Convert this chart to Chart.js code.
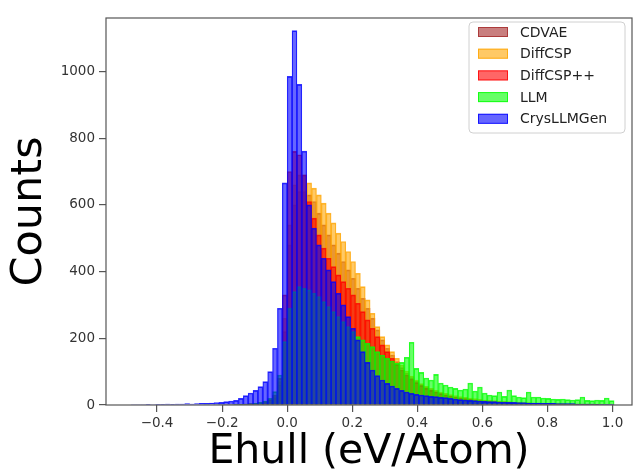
<!DOCTYPE html>
<html>
<head>
<meta charset="utf-8">
<script src="https://cdn.jsdelivr.net/npm/chart.js@4/dist/chart.umd.min.js"></script>
<style>
  html, body { margin: 0; padding: 0; background: #fff; }
  #wrap { width: 635px; height: 474px; }
</style>
</head>
<body>
<div id="wrap"><canvas id="hist" width="635" height="474"></canvas></div>
<script>
// histogram bins: left edge of the first bin and bin width (eV/atom)
const BIN_START = -0.48;
const BIN_WIDTH = 0.015;

const seriesNames = ["CDVAE", "DiffCSP", "DiffCSP++", "LLM", "CrysLLMGen"];

// counts per bin
const cdvae = [
  0, 0, 0, 0, 0, 0, 0, 0, 0, 0,
  0, 0, 0, 0, 0, 0, 0, 0, 0, 0,
  0, 0, 1, 1, 2, 3, 4, 6, 10, 20,
  60, 220, 480, 600, 640, 640, 630, 610, 575, 540,
  510, 480, 455, 430, 405, 380, 350, 320, 290, 260,
  225, 195, 170, 150, 130, 112, 96, 82, 71, 61,
  53, 46, 40, 35, 31, 27, 24, 21, 19, 17,
  15, 14, 13, 12, 11, 10, 9, 8, 7, 7,
  6, 6, 5, 5, 4, 4, 4, 3, 3, 3,
  3, 2, 2, 2, 2, 2, 1, 1, 1
];
const diffcsp = [
  0, 0, 0, 0, 0, 0, 0, 0, 0, 0,
  0, 0, 0, 0, 0, 0, 0, 0, 0, 1,
  1, 1, 2, 2, 3, 4, 6, 9, 14, 25,
  70, 260, 540, 660, 690, 690, 666, 650, 630, 605,
  575, 546, 515, 490, 460, 430, 395, 355, 315, 275,
  235, 205, 180, 160, 140, 120, 102, 87, 75, 64,
  56, 50, 44, 39, 35, 31, 28, 25, 23, 21,
  19, 17, 15, 14, 13, 12, 11, 10, 9, 8,
  7, 7, 6, 6, 5, 5, 4, 4, 4, 3,
  3, 3, 3, 2, 2, 2, 2, 1, 1
];
const diffcspPP = [
  0, 0, 0, 0, 0, 0, 0, 0, 0, 0,
  0, 0, 0, 0, 0, 0, 0, 0, 1, 1,
  1, 2, 2, 3, 4, 5, 7, 10, 16, 30,
  80, 330, 700, 760, 750, 690, 610, 560, 510, 470,
  440, 415, 390, 370, 350, 330, 305, 280, 255, 230,
  205, 180, 160, 140, 122, 105, 90, 78, 67, 58,
  50, 44, 39, 34, 30, 27, 24, 21, 19, 17,
  15, 13, 12, 11, 10, 9, 8, 8, 7, 6,
  6, 5, 5, 5, 4, 4, 4, 3, 3, 3,
  3, 2, 2, 2, 2, 2, 1, 1, 1
];
const llm = [
  0, 0, 0, 0, 0, 0, 0, 0, 0, 0,
  0, 0, 0, 0, 0, 1, 0, 1, 1, 1,
  1, 2, 2, 3, 4, 5, 8, 12, 20, 40,
  90, 190, 290, 340, 355, 350, 345, 335, 325, 310,
  295, 280, 265, 250, 235, 220, 205, 195, 185, 175,
  160, 150, 140, 132, 125, 128, 143, 188, 110, 98,
  81, 75, 92, 66, 60, 54, 50, 45, 48, 66,
  42, 54, 36, 30, 28, 39, 26, 45, 28, 24,
  22, 39, 24, 24, 21, 20, 18, 17, 18, 16,
  15, 16, 24, 14, 13, 15, 14, 21, 13
];
const crysllmgen = [
  1, 1, 1, 2, 1, 2, 2, 3, 2, 3,
  3, 4, 3, 4, 5, 5, 6, 7, 8, 10,
  12, 14, 20, 28, 36, 44, 55, 70, 100, 170,
  290, 666, 985, 1122, 961, 761, 600, 530, 480, 440,
  405, 370, 335, 300, 265, 230, 195, 160, 128, 105,
  88, 75, 65, 57, 50, 44, 39, 35, 32, 30,
  28, 26, 25, 23, 22, 20, 18, 16, 15, 14,
  13, 12, 11, 10, 10, 9, 9, 8, 8, 7,
  7, 6, 6, 6, 5, 5, 5, 4, 4, 4,
  4, 3, 3, 3, 3, 2, 2, 2, 2
];

const xTicks = [-0.4, -0.2, 0, 0.2, 0.4, 0.6, 0.8, 1.0];
const yTicks = [0, 200, 400, 600, 800, 1000];

const fills = [
  "rgba(165, 42, 42, 0.6)",
  "rgba(255, 165, 0, 0.6)",
  "rgba(255, 0, 0, 0.6)",
  "rgba(0, 255, 0, 0.6)",
  "rgba(0, 0, 255, 0.6)"
];
const edges = [
  "rgba(165, 42, 42, 0.8)",
  "rgba(255, 165, 0, 0.8)",
  "rgba(255, 0, 0, 0.8)",
  "rgba(0, 255, 0, 0.8)",
  "rgba(0, 0, 255, 0.8)"
];

const FONT = "'DejaVu Sans', sans-serif";

function toPoints(counts) {
  return counts.map((c, i) => ({ x: BIN_START + (i + 0.5) * BIN_WIDTH, y: c }));
}

const allCounts = [cdvae, diffcsp, diffcspPP, llm, crysllmgen];

const datasets = allCounts.map((counts, i) => ({
  label: seriesNames[i],
  data: toPoints(counts),
  backgroundColor: fills[i],
  borderColor: edges[i],
  borderWidth: { top: 1, left: 0.6, right: 0.6, bottom: 0 },
  borderSkipped: "start",
  barPercentage: 1,
  categoryPercentage: 1,
  grouped: false,
  // first series at the bottom, CrysLLMGen on top
  order: allCounts.length - i
}));

// full box round the axes, like matplotlib spines
const frame = {
  id: "frame",
  afterDatasetsDraw(chart) {
    const { ctx, chartArea: a } = chart;
    ctx.save();
    ctx.strokeStyle = "#555";
    ctx.lineWidth = 1.2;
    ctx.strokeRect(a.left, a.top, a.right - a.left, a.bottom - a.top);
    ctx.restore();
  }
};

// legend box in the upper right of the axes
const legendBox = {
  id: "legendBox",
  afterDraw(chart) {
    const { ctx } = chart;
    const bx = 469, by = 22, bw = 156, bh = 111;
    ctx.save();
    ctx.beginPath();
    ctx.roundRect(bx, by, bw, bh, 4);
    ctx.fillStyle = "rgba(255,255,255,0.8)";
    ctx.fill();
    ctx.strokeStyle = "#d0d0d0";
    ctx.lineWidth = 1;
    ctx.stroke();
    ctx.font = "14px " + FONT;
    ctx.textBaseline = "middle";
    ctx.textAlign = "left";
    chart.data.datasets.forEach((ds, i) => {
      const cy = 32 + i * 21.7;
      ctx.fillStyle = ds.backgroundColor;
      ctx.fillRect(478, cy - 5, 30, 10);
      ctx.strokeStyle = ds.borderColor;
      ctx.strokeRect(478.5, cy - 4.5, 29, 9);
      ctx.fillStyle = "#222";
      ctx.fillText(ds.label, 520, cy + 1);
    });
    ctx.restore();
  }
};

new Chart(document.getElementById("hist"), {
  type: "bar",
  data: { datasets },
  options: {
    responsive: false,
    animation: false,
    devicePixelRatio: 1,
    layout: { padding: { left: 0, top: 18, right: 3, bottom: 1 } },
    plugins: { legend: { display: false }, tooltip: { enabled: false } },
    scales: {
      x: {
        type: "linear",
        offset: false,
        min: -0.557,
        max: 1.06,
        afterBuildTicks: (s) => { s.ticks = xTicks.map((v) => ({ value: v })); },
        afterFit: (s) => { s.height = 68; },
        border: { display: false },
        grid: { offset: false, drawOnChartArea: false, drawTicks: true, tickLength: 7, color: "#555", lineWidth: 1.2 },
        ticks: {
          color: "#333",
          padding: 3,
          maxRotation: 0,
          autoSkip: false,
          font: { family: FONT, size: 13.5 },
          callback: (v) => (v < 0 ? "\u2212" : "") + Math.abs(v).toFixed(1)
        },
        title: {
          display: true,
          text: "Ehull (eV/Atom)",
          color: "#000",
          padding: 0,
          font: { family: FONT, size: 41, lineHeight: 1 }
        }
      },
      y: {
        min: 0,
        max: 1160,
        afterBuildTicks: (s) => { s.ticks = yTicks.map((v) => ({ value: v })); },
        afterFit: (s) => { s.width = 106; },
        border: { display: false },
        grid: { drawOnChartArea: false, drawTicks: true, tickLength: 7, color: "#555", lineWidth: 1.2 },
        ticks: {
          color: "#333",
          padding: 4,
          font: { family: FONT, size: 13.5 },
          callback: (v) => String(v)
        },
        title: {
          display: true,
          text: "Counts",
          color: "#000",
          padding: { top: 8, bottom: 0 },
          font: { family: FONT, size: 43, lineHeight: 1 }
        }
      }
    }
  },
  plugins: [frame, legendBox]
});
</script>
</body>
</html>
